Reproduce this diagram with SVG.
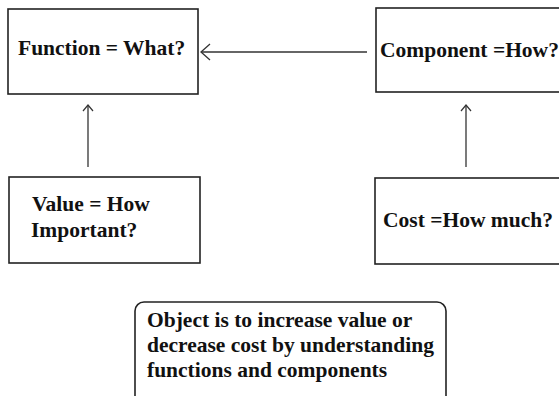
<svg xmlns="http://www.w3.org/2000/svg" width="559" height="396" viewBox="0 0 559 396">
  <style>
    .box { fill: #ffffff; stroke: #222222; stroke-width: 1.6; }
    .lbl { font-family: "Liberation Serif", "Times New Roman", serif; font-weight: bold; font-size: 21.5px; fill: #111111; }
    .edge { fill: none; stroke: #333333; stroke-width: 1.3; }
  </style>
  <defs>
    <marker id="open-arrow" markerWidth="12" markerHeight="18" refX="10" refY="9" orient="auto" markerUnits="userSpaceOnUse">
      <path d="M1,1 L10,9 L1,17" fill="none" stroke="#333333" stroke-width="1.3"/>
    </marker>
    <marker id="small-arrow" markerWidth="10" markerHeight="12" refX="8" refY="6" orient="auto" markerUnits="userSpaceOnUse">
      <path d="M2,1 L8,6 L2,11" fill="none" stroke="#333333" stroke-width="1.2"/>
    </marker>
  </defs>

  <rect width="559" height="396" fill="#ffffff"/>

  <g id="connectors">
    <line class="edge" x1="367" y1="52" x2="201" y2="52" marker-end="url(#open-arrow)"/>
    <line class="edge" x1="88" y1="167" x2="88" y2="105" marker-end="url(#small-arrow)"/>
    <line class="edge" x1="466" y1="167" x2="466" y2="105" marker-end="url(#small-arrow)"/>
  </g>

  <g id="function">
    <rect class="box" x="8" y="9" width="190" height="85"/>
    <text class="lbl" x="18" y="55">Function = What?</text>
  </g>

  <g id="component">
    <rect class="box" x="376" y="8" width="190" height="84"/>
    <text class="lbl" x="380" y="57">Component =How?</text>
  </g>

  <g id="value">
    <rect class="box" x="9" y="177" width="191" height="86"/>
    <text class="lbl" x="32" y="211">Value = How</text>
    <text class="lbl" x="31" y="237">Important?</text>
  </g>

  <g id="cost">
    <rect class="box" x="375" y="178" width="190" height="86"/>
    <text class="lbl" x="383" y="227">Cost =How much?</text>
  </g>

  <g id="objective">
    <rect class="box" x="135" y="302" width="311" height="110" rx="9" ry="9"/>
    <text class="lbl" x="147" y="327">Object is to increase value or</text>
    <text class="lbl" x="147" y="352">decrease cost by understanding</text>
    <text class="lbl" x="147" y="377">functions and components</text>
  </g>
</svg>
